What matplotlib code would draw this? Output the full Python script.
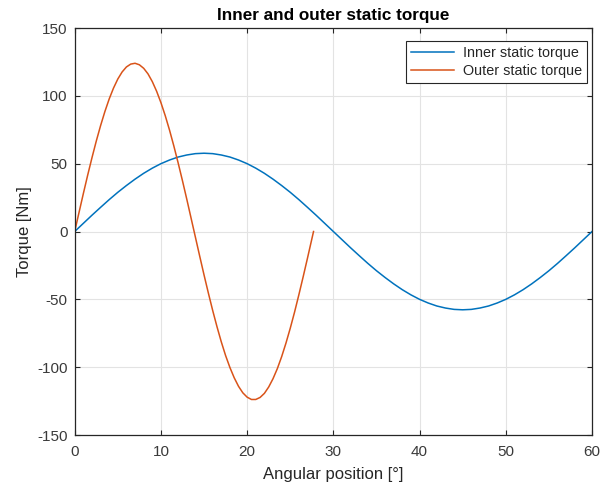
import matplotlib
matplotlib.use("Agg")
import matplotlib.pyplot as plt

plt.rcParams['font.family'] = ['Liberation Sans', 'DejaVu Sans']
plt.rcParams['axes.unicode_minus'] = False

# Inner static torque, sampled every 1 degree
inner_angle = list(range(0, 61))
inner_torque = [
    0, 6.0, 12.0, 17.8, 23.5, 28.9, 33.9, 38.6, 42.9, 46.7, 50.0, 52.7, 54.9, 56.4, 57.4, 57.7,
    57.4, 56.4, 54.9, 52.7, 50.0, 46.7, 42.9, 38.6, 33.9, 28.9, 23.5, 17.8, 12.0, 6.0, 0,
    -6.0, -12.0, -17.8, -23.5, -28.9, -33.9, -38.6, -42.9, -46.7, -50.0, -52.7, -54.9, -56.4, -57.4, -57.7,
    -57.4, -56.4, -54.9, -52.7, -50.0, -46.7, -42.9, -38.6, -33.9, -28.9, -23.5, -17.8, -12.0, -6.0, 0,
]

# Outer static torque, sampled every 0.5 degree
outer_angle = [i * 0.5 for i in range(56)] + [27.7]
outer_torque = [
    0, 14.0, 27.9, 41.4, 54.3, 66.6, 78.0, 88.4, 97.7, 105.7, 112.4, 117.6, 121.3, 123.4, 124.0,
    122.9, 120.3, 116.2, 110.5, 103.4, 95.0, 85.4, 74.7, 63.0, 50.5, 37.4, 23.8, 9.8,
    -4.2, -18.2, -32.0, -45.3, -58.1, -70.1, -81.3, -91.4, -100.2, -107.8, -114.1, -118.9, -122.1, -123.8,
    -123.8, -122.3, -119.3, -114.6, -108.5, -101.1, -92.3, -82.3, -71.3, -59.4, -46.6, -33.3, -19.6, -5.6,
    0,
]

x_ticks = [0, 10, 20, 30, 40, 50, 60]
y_ticks = [-150, -100, -50, 0, 50, 100, 150]

fig = plt.figure(figsize=(6.0, 4.93), dpi=100)
ax = fig.add_axes([0.1245, 0.1176, 0.8622, 0.8256])

ax.plot(inner_angle, inner_torque, color=(0.0, 0.447, 0.741), lw=1.1, label='Inner static torque')
ax.plot(outer_angle, outer_torque, color=(0.85, 0.325, 0.098), lw=1.1, label='Outer static torque')

ax.set_xlim(0, 60)
ax.set_ylim(-150, 150)
ax.set_xticks(x_ticks)
ax.set_yticks(y_ticks)
ax.grid(True, color='#e3e3e3', lw=0.8)
ax.set_axisbelow(True)
ax.tick_params(direction='in', length=3.5, width=0.8, labelsize=11, colors='#262626',
               labelcolor='#3a3a3a', top=True, right=True, labeltop=False, labelright=False)
ax.tick_params(axis='x', pad=7)
ax.tick_params(axis='y', pad=5)
for s in ax.spines.values():
    s.set_color('#262626')
    s.set_linewidth(0.9)

ax.set_xlabel('Angular position [°]', fontsize=12, color='#262626', labelpad=6)
ax.set_ylabel('Torque [Nm]', fontsize=12, color='#262626', labelpad=4)
ax.set_title('Inner and outer static torque', fontsize=12.3, fontweight='bold', color='black', pad=6)

leg = ax.legend(loc='upper right', fontsize=10.4, fancybox=False, framealpha=1,
                edgecolor='#262626', borderpad=0.35, borderaxespad=0, handlelength=3.0,
                handletextpad=0.6, labelspacing=0.3, bbox_to_anchor=(0.990, 0.968))
leg.get_frame().set_linewidth(0.8)
for t in leg.get_texts():
    t.set_color('#262626')

fig.savefig('out.png', dpi=100)
